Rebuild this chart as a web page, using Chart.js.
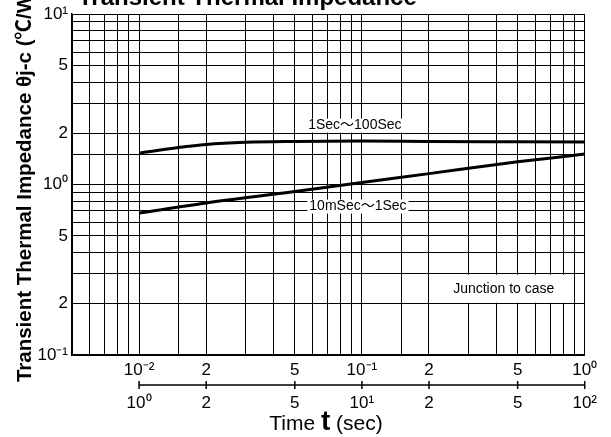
<!DOCTYPE html>
<html>
<head>
<meta charset="utf-8">
<script src="https://cdn.jsdelivr.net/npm/chart.js@4"></script>
<style>
  body { margin: 0; background: #fff; }
</style>
</head>
<body>
<canvas id="graficoImpedancia" width="611" height="437"></canvas>
<script>
// 10mSec~1Sec (top time scale, sec)
const tiempoCorto = [0.01, 0.02, 0.05, 0.1, 0.2, 0.5, 1];
const impedanciaCorto = [0.68, 0.78, 0.91, 1.03, 1.16, 1.36, 1.51];

// 1Sec~100Sec (bottom time scale, sec)
const tiempoLargo = [1, 1.5, 2, 3, 5, 10, 20, 50, 100];
const impedanciaLargo = [1.53, 1.65, 1.72, 1.77, 1.79, 1.8, 1.79, 1.785, 1.78];

// tick labels
const valoresX = [0.01, 0.02, 0.05, 0.1, 0.2, 0.5, 1];
const etiquetasX = ['10⁻²', '2', '5', '10⁻¹', '2', '5', '10⁰'];
const valoresX2 = [1, 2, 5, 10, 20, 50, 100];
const etiquetasX2 = ['10⁰', '2', '5', '10¹', '2', '5', '10²'];
const valoresY = [0.1, 0.2, 0.5, 1, 2, 5, 10];
const etiquetasY = ['10⁻¹', '2', '5', '10⁰', '2', '5', '10¹'];

const fuente = '"Liberation Sans", Arial, "Noto Sans CJK JP", sans-serif';
Chart.defaults.font.family = fuente;
Chart.defaults.color = '#000';

function etiqueta(v, valores, etiquetas) {
  const i = valores.findIndex(t => Math.abs(t - v) / t < 1e-6);
  return i >= 0 ? etiquetas[i] : '';
}

function rotulo(ctx, texto, px, py) {
  const w = ctx.measureText(texto).width;
  ctx.fillStyle = '#fff';
  ctx.fillRect(px - w / 2 - 2, py - 7, w + 4, 14);
  ctx.fillStyle = '#000';
  ctx.fillText(texto, px, py);
}

const textos = {
  id: 'textos',
  beforeDatasetsDraw(chart) {
    const { ctx, scales: { x, y } } = chart;
    ctx.save();
    ctx.font = '14px ' + fuente;
    ctx.textAlign = 'center';
    ctx.textBaseline = 'middle';

    // Junction to case box
    const l = x.getPixelForValue(0.2), r = x.getPixelForValue(0.9);
    const t = y.getPixelForValue(0.3), b = y.getPixelForValue(0.2);
    ctx.fillStyle = '#fff';
    ctx.fillRect(l + 1, t + 1, r - l - 2, b - t - 2);
    ctx.fillStyle = '#000';
    ctx.fillText('Junction to case', (l + r) / 2 + 2, (t + b) / 2);

    rotulo(ctx, '1Sec～100Sec', x.getPixelForValue(0.093), y.getPixelForValue(2.22));
    rotulo(ctx, '10mSec～1Sec', x.getPixelForValue(0.096), y.getPixelForValue(0.743));
    ctx.restore();
  },
  afterDraw(chart) {
    const { ctx, scales: { x2 } } = chart;
    ctx.save();

    // second time axis
    const ya = 385;
    ctx.strokeStyle = '#000';
    ctx.lineWidth = 1.5;
    ctx.beginPath();
    ctx.moveTo(x2.getPixelForValue(1), ya);
    ctx.lineTo(x2.getPixelForValue(100), ya);
    valoresX2.forEach(v => {
      const px = x2.getPixelForValue(v);
      ctx.moveTo(px, ya - 4);
      ctx.lineTo(px, ya + 4);
    });
    ctx.stroke();

    // title
    ctx.fillStyle = '#000';
    ctx.textBaseline = 'alphabetic';
    ctx.textAlign = 'left';
    ctx.font = 'bold 24px ' + fuente;
    ctx.fillText('Transient Thermal Impedance', 78, 5);

    // x axis title: Time t (sec)
    const partes = [['Time ', '21px '], ['t', 'bold 28px '], [' (sec)', '21px ']];
    let ancho = 0;
    partes.forEach(p => { ctx.font = p[1] + fuente; ancho += ctx.measureText(p[0]).width; });
    let px = 326 - ancho / 2;
    partes.forEach(p => {
      ctx.font = p[1] + fuente;
      ctx.fillText(p[0], px, 430);
      px += ctx.measureText(p[0]).width;
    });
    ctx.restore();
  }
};

const ctxImpedancia = document.getElementById('graficoImpedancia').getContext('2d');
new Chart(ctxImpedancia, {
  type: 'line',
  data: {
    datasets: [{
      label: '10mSec～1Sec',
      data: tiempoCorto.map((t, i) => ({ x: t, y: impedanciaCorto[i] })),
      xAxisID: 'x',
      yAxisID: 'y'
    }, {
      label: '1Sec～100Sec',
      data: tiempoLargo.map((t, i) => ({ x: t, y: impedanciaLargo[i] })),
      xAxisID: 'x2',
      yAxisID: 'y'
    }]
  },
  options: {
    responsive: false,
    animation: false,
    devicePixelRatio: 1,
    layout: { padding: { top: 14, right: 25, left: 0, bottom: 0 } },
    elements: {
      line: { borderColor: '#000', borderWidth: 3, tension: 0.4, cubicInterpolationMode: 'monotone', fill: false },
      point: { radius: 0 }
    },
    plugins: {
      legend: { display: false },
      tooltip: { enabled: false }
    },
    scales: {
      x: {
        type: 'logarithmic',
        position: 'bottom',
        min: 0.005,
        max: 1,
        weight: 0,
        grid: { color: '#000', lineWidth: 1, drawTicks: false },
        border: { color: '#000', width: 1.5 },
        ticks: {
          autoSkip: false, maxRotation: 0, padding: 5,
          font: { size: 17 },
          callback: v => etiqueta(v, valoresX, etiquetasX)
        },
        afterFit: s => { s.height = 24; }
      },
      x2: {
        type: 'logarithmic',
        position: 'bottom',
        min: 0.5,
        max: 100,
        weight: 1,
        grid: { display: false, drawTicks: false },
        border: { display: false },
        ticks: {
          autoSkip: false, maxRotation: 0, padding: 14,
          font: { size: 17 },
          callback: v => etiqueta(v, valoresX2, etiquetasX2)
        },
        afterFit: s => { s.height = 58; }
      },
      y: {
        type: 'logarithmic',
        min: 0.1,
        max: 10,
        grid: { color: '#000', lineWidth: 1, drawTicks: false },
        border: { color: '#000', width: 1.5 },
        ticks: {
          autoSkip: false, padding: 4,
          font: { size: 17 },
          callback: v => etiqueta(v, valoresY, etiquetasY)
        },
        title: {
          display: true,
          text: 'Transient Thermal Impedance θj-c (℃/W)',
          font: { size: 20.5, weight: 'bold' },
          padding: { top: 13, bottom: 0 }
        },
        afterFit: s => { s.width = 72; }
      }
    }
  },
  plugins: [textos]
});
</script>
</body>
</html>
